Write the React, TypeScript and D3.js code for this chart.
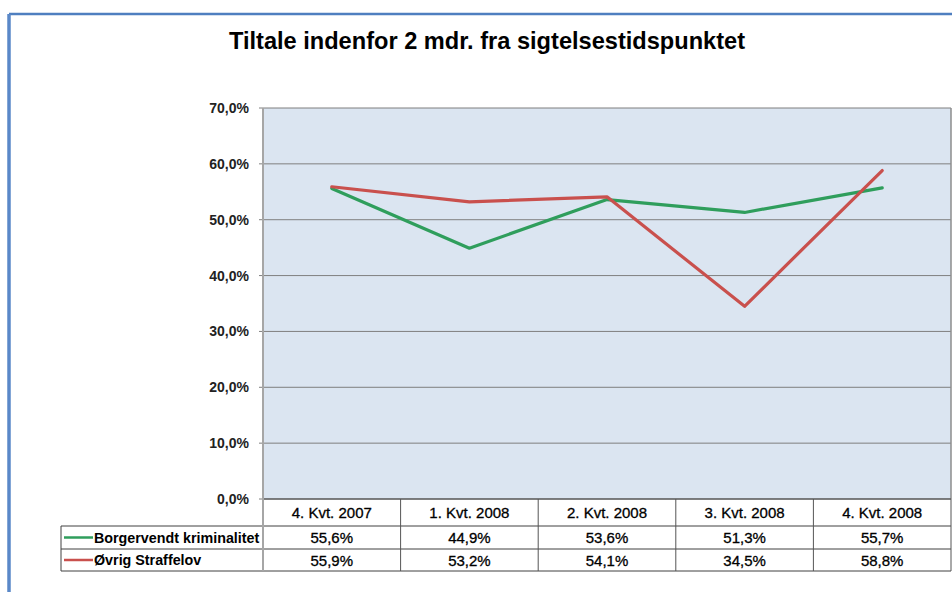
import React from "react";
import * as d3 from "d3";

const title = "Tiltale indenfor 2 mdr. fra sigtelsestidspunktet";
const categories = ["4. Kvt. 2007", "1. Kvt. 2008", "2. Kvt. 2008", "3. Kvt. 2008", "4. Kvt. 2008"];
const seriesNames = ["Borgervendt kriminalitet", "Øvrig Straffelov"];
const borgervendt = [55.6, 44.9, 53.6, 51.3, 55.7];
const oevrig = [55.9, 53.2, 54.1, 34.5, 58.8];
const yTicks = [0, 10, 20, 30, 40, 50, 60, 70];
const seriesColors = ["#2f9e5c", "#c9504d"];

const W = 952;
const H = 592;
const plotLeft = 263;
const plotRight = 951;
const plotTop = 108;
const plotBottom = 499;
const tableLeft = 61;
const rowLines = [499, 526, 549, 571];

const fmt = (v: number) => v.toFixed(1).replace(".", ",") + "%";

export default function App() {
  const x = d3.scaleBand<string>().domain(categories).range([plotLeft, plotRight]).padding(0);
  const y = d3.scaleLinear().domain([0, 70]).range([plotBottom, plotTop]);
  const line = d3
    .line<number>()
    .x((_, i) => (x(categories[i]) as number) + x.bandwidth() / 2)
    .y((d) => y(d));
  const allSeries = [borgervendt, oevrig];
  const font = "Arial, 'Liberation Sans', sans-serif";

  return (
    <svg
      width={W}
      height={H}
      style={{ position: "absolute", left: 0, top: 0, background: "#fff" }}
      fontFamily={font}
    >
      {/* outer frame (top & left visible) */}
      <line x1={9} y1={14} x2={W} y2={14} stroke="#4f7fc0" strokeWidth={2.5} />
      <line x1={9} y1={14} x2={9} y2={H} stroke="#5a88c8" strokeWidth={3.5} />

      <text x={487} y={49} textAnchor="middle" fontSize={23.6} fontWeight="bold" fill="#000">
        {title}
      </text>

      {/* plot area */}
      <rect x={plotLeft} y={plotTop} width={plotRight - plotLeft} height={plotBottom - plotTop} fill="#dbe5f1" />
      {yTicks.map((t) => (
        <g key={t}>
          <line x1={plotLeft - 4} x2={plotRight} y1={y(t)} y2={y(t)} stroke="#7f7f7f" strokeWidth={1} />
          <text x={249} y={y(t) + 5} textAnchor="end" fontSize={14} fontWeight="bold" fill="#222">
            {fmt(t)}
          </text>
        </g>
      ))}
      <line x1={plotRight} x2={plotRight} y1={plotTop} y2={plotBottom} stroke="#8c8c8c" strokeWidth={1.5} />

      {/* series lines */}
      {allSeries.map((s, i) => (
        <path key={i} d={line(s) || ""} fill="none" stroke={seriesColors[i]} strokeWidth={3.2} strokeLinejoin="round" strokeLinecap="round" />
      ))}

      {/* data table */}
      <g>
        {rowLines.map((ry, i) => (
          <line
            key={i}
            x1={i === 0 ? plotLeft : tableLeft}
            x2={plotRight}
            y1={ry}
            y2={ry}
            stroke="#404040"
            strokeWidth={1}
          />
        ))}
        <line x1={tableLeft} x2={tableLeft} y1={rowLines[1]} y2={rowLines[3]} stroke="#404040" strokeWidth={1} />
        {categories.map((c) => {
          const x0 = x(c) as number;
          return (
            <line
              key={c}
              x1={x0 + x.bandwidth()}
              x2={x0 + x.bandwidth()}
              y1={rowLines[0]}
              y2={rowLines[3]}
              stroke="#555"
              strokeWidth={1}
            />
          );
        })}
        <line x1={plotLeft} x2={plotLeft} y1={plotTop} y2={rowLines[3]} stroke="#a6a6a6" strokeWidth={2} />
        {categories.map((c) => (
          <text
            key={c}
            x={(x(c) as number) + x.bandwidth() / 2}
            y={rowLines[0] + 19}
            textAnchor="middle"
            fontSize={15}
            fill="#000"
            stroke="#000"
            strokeWidth={0.3}
          >
            {c}
          </text>
        ))}
        {allSeries.map((s, si) => (
          <g key={si}>
            <line
              x1={tableLeft + 3}
              x2={tableLeft + 32}
              y1={(rowLines[si + 1] + rowLines[si + 2]) / 2}
              y2={(rowLines[si + 1] + rowLines[si + 2]) / 2}
              stroke={seriesColors[si]}
              strokeWidth={2.5}
            />
            <text
              x={tableLeft + 33}
              y={(rowLines[si + 1] + rowLines[si + 2]) / 2 + 5}
              fontSize={14.3}
              fontWeight="bold"
              fill="#000"
            >
              {seriesNames[si]}
            </text>
            {s.map((v, i) => (
              <text
                key={i}
                x={(x(categories[i]) as number) + x.bandwidth() / 2}
                y={(rowLines[si + 1] + rowLines[si + 2]) / 2 + 5.5}
                textAnchor="middle"
                fontSize={15}
                fill="#000"
                stroke="#000"
                strokeWidth={0.3}
              >
                {fmt(v)}
              </text>
            ))}
          </g>
        ))}
      </g>
    </svg>
  );
}
